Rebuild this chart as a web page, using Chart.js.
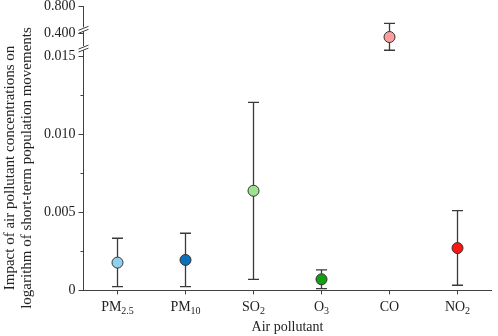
<!DOCTYPE html>
<html>
<head>
<meta charset="utf-8">
<script src="https://cdn.jsdelivr.net/npm/chart.js@4.4.0/dist/chart.umd.min.js"></script>
<style>
  html, body { margin: 0; padding: 0; background: #fff; }
  #wrap { width: 498px; height: 336px; }
</style>
</head>
<body>
<div id="wrap"><canvas id="chart"></canvas></div>
<script>
// categories and labels (base + subscript part)
const categories = ['PM2.5', 'PM10', 'SO2', 'O3', 'CO', 'NO2'];
const labelBase = ['PM', 'PM', 'SO', 'O', 'CO', 'NO'];
const labelSub = ['2.5', '10', '2', '3', '', '2'];
const yTitle = ['Impact of air pollutant concentrations on', 'logarithm of short-term population movements'];
const xTitle = 'Air pollutant';

// lower segment (0 - 0.015)
const lowValues = [0.00178, 0.00195, 0.00638, 0.00071, null, 0.00271];
const lowUpper  = [0.00334, 0.00366, 0.01204, 0.00132, null, 0.00511];
const lowLower  = [0.00024, 0.00024, 0.00071, 0.00011, null, 0.00033];

// upper segment (CO only)
const highValues = [null, null, null, null, 0.345, null];
const highUpper  = [null, null, null, null, 0.548, null];
const highLower  = [null, null, null, null, 0.148, null];

const lowTicks = [0, 0.005, 0.010, 0.015];
const lowMinorTicks = [0.0025, 0.0075, 0.0125];
const highTicks = [0.4, 0.8];
const breakValues = [0.46, 0.18];

const pointColors = ['#8fd0ee', '#0b72b9', '#9be48c', '#12a012', '#ff9c9c', '#ff1414'];

const FONT = 'Liberation Serif';
const AXIS = '#404040';
const TEXT = '#222';

// error bars drawn from the scales
const errorBars = {
    id: 'errorBars',
    beforeDatasetsDraw(chart) {
        const ctx = chart.ctx;
        const xs = chart.scales.x;
        ctx.save();
        ctx.strokeStyle = '#3a3a3a';
        ctx.lineWidth = 1.3;
        chart.data.datasets.forEach(ds => {
            const ys = chart.scales[ds.yAxisID];
            ds.data.forEach((v, i) => {
                if (v == null) return;
                const px = xs.getPixelForValue(i);
                const top = ys.getPixelForValue(ds.errUpper[i]);
                const bot = ys.getPixelForValue(ds.errLower[i]);
                ctx.beginPath();
                ctx.moveTo(px, top); ctx.lineTo(px, bot);
                ctx.moveTo(px - 5.5, top); ctx.lineTo(px + 5.5, top);
                ctx.moveTo(px - 5.5, bot); ctx.lineTo(px + 5.5, bot);
                ctx.stroke();
            });
        });
        ctx.restore();
    }
};

// subscripted x labels, y title, minor ticks and axis breaks
const axisExtras = {
    id: 'axisExtras',
    afterDraw(chart) {
        const ctx = chart.ctx;
        const xs = chart.scales.x;
        const ys = chart.scales.y;
        const yt = chart.scales.yTop;
        const ax = chart.chartArea.left;
        ctx.save();
        ctx.fillStyle = TEXT;

        // x labels with subscripts
        ctx.textBaseline = 'alphabetic';
        ctx.textAlign = 'left';
        categories.forEach((c, i) => {
            const cx = xs.getPixelForValue(i);
            ctx.font = '14px "' + FONT + '"';
            const w1 = ctx.measureText(labelBase[i]).width;
            ctx.font = '10px "' + FONT + '"';
            const w2 = labelSub[i] ? ctx.measureText(labelSub[i]).width : 0;
            const x0 = cx - (w1 + w2) / 2;
            const base = xs.top + 21;
            ctx.font = '14px "' + FONT + '"';
            ctx.fillText(labelBase[i], x0, base);
            if (labelSub[i]) {
                ctx.font = '10px "' + FONT + '"';
                ctx.fillText(labelSub[i], x0 + w1, base + 3);
            }
        });

        // y title, centred on the figure
        ctx.font = '15px "' + FONT + '"';
        ctx.textAlign = 'center';
        ctx.textBaseline = 'middle';
        yTitle.forEach((t, k) => {
            ctx.save();
            ctx.translate(10 + k * 17, chart.height / 2);
            ctx.rotate(-Math.PI / 2);
            ctx.fillText(t, 0, 0);
            ctx.restore();
        });

        // minor ticks
        ctx.strokeStyle = AXIS;
        ctx.lineWidth = 1;
        lowMinorTicks.forEach(v => {
            const py = Math.round(ys.getPixelForValue(v)) + 0.5;
            ctx.beginPath();
            ctx.moveTo(ax - 3, py); ctx.lineTo(ax, py);
            ctx.stroke();
        });

        // axis breaks
        breakValues.forEach(v => {
            const py = yt.getPixelForValue(v);
            ctx.fillStyle = '#fff';
            ctx.fillRect(ax - 2, py - 2, 4, 4);
            ctx.beginPath();
            ctx.moveTo(ax - 5, py + 1); ctx.lineTo(ax + 5, py - 3);
            ctx.moveTo(ax - 5, py + 4); ctx.lineTo(ax + 5, py);
            ctx.stroke();
        });
        ctx.restore();
    }
};

const noVerticalPadding = s => { s.paddingTop = 0; s.paddingBottom = 0; };

const ctx = document.getElementById('chart').getContext('2d');
const chart = new Chart(ctx, {
    type: 'line',
    data: {
        labels: categories,
        datasets: [{
            data: lowValues,
            errUpper: lowUpper,
            errLower: lowLower,
            yAxisID: 'y',
            showLine: false,
            pointRadius: 5.5,
            pointBorderWidth: 1,
            pointBorderColor: '#333',
            pointBackgroundColor: pointColors
        }, {
            data: highValues,
            errUpper: highUpper,
            errLower: highLower,
            yAxisID: 'yTop',
            showLine: false,
            pointRadius: 5.5,
            pointBorderWidth: 1,
            pointBorderColor: '#333',
            pointBackgroundColor: pointColors
        }]
    },
    options: {
        responsive: true,
        maintainAspectRatio: false,
        animation: false,
        layout: { padding: { top: 5, right: 0, left: 41, bottom: 0 } },
        plugins: { legend: { display: false }, tooltip: { enabled: false } },
        scales: {
            x: {
                offset: true,
                grid: { drawOnChartArea: false, tickLength: 4, color: AXIS },
                border: { color: AXIS, width: 1 },
                ticks: { color: 'rgba(0,0,0,0)', font: { family: FONT, size: 14 }, padding: 4 },
                title: { display: true, text: xTitle, color: TEXT, font: { family: FONT, size: 14 }, padding: { top: 0, bottom: 0 } }
            },
            y: {
                stack: 'left',
                stackWeight: 236,
                min: 0,
                max: 0.015,
                afterBuildTicks: s => { s.ticks = lowTicks.map(v => ({ value: v })); },
                afterFit: noVerticalPadding,
                grid: { drawOnChartArea: false, tickLength: 5, color: AXIS },
                border: { color: AXIS, width: 1 },
                ticks: {
                    color: TEXT, font: { family: FONT, size: 14 }, padding: 3,
                    callback: v => v === 0 ? '0' : v.toFixed(3)
                }
            },
            yTop: {
                stack: 'left',
                stackWeight: 50,
                min: 0.06,
                max: 0.8,
                afterBuildTicks: s => { s.ticks = highTicks.map(v => ({ value: v })); },
                afterFit: noVerticalPadding,
                grid: { drawOnChartArea: false, tickLength: 5, color: AXIS },
                border: { color: AXIS, width: 1 },
                ticks: {
                    color: TEXT, font: { family: FONT, size: 14 }, padding: 3,
                    callback: v => v.toFixed(3)
                }
            }
        }
    },
    plugins: [errorBars, axisExtras]
});
</script>
</body>
</html>
